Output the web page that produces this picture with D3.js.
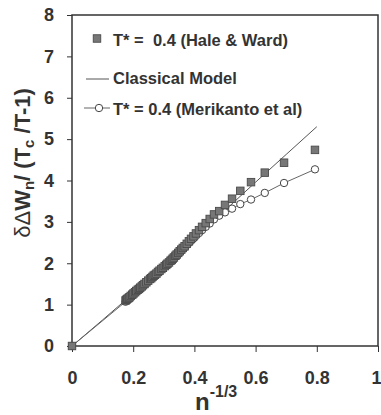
<!DOCTYPE html>
<html>
<head>
<meta charset="utf-8">
<script src="https://cdn.jsdelivr.net/npm/d3@7"></script>
<style>
  html, body { margin: 0; padding: 0; background: #fff; }
  svg { display: block; font-family: "Liberation Sans", Arial, sans-serif; }
</style>
</head>
<body>
<svg id="chart" width="381" height="415"></svg>
<script>
// ---- data ----
const xTicks = [0, 0.2, 0.4, 0.6, 0.8, 1];
const xTickLabels = ["0", "0.2", "0.4", "0.6", "0.8", "1"];
const yTicks = [0, 1, 2, 3, 4, 5, 6, 7, 8];

// n^-1/3 values of the clusters
const clusterX = [0, 0.175, 0.178, 0.181, 0.185, 0.188, 0.192, 0.197, 0.201, 0.206, 0.210,
  0.215, 0.219, 0.223, 0.228, 0.232, 0.237, 0.243, 0.249, 0.255, 0.259,
  0.263, 0.267, 0.271, 0.276, 0.281, 0.286, 0.292, 0.297, 0.303, 0.308,
  0.312, 0.317, 0.322, 0.326, 0.329, 0.333, 0.338, 0.342, 0.347, 0.352,
  0.357, 0.362, 0.368, 0.375, 0.382, 0.389, 0.397, 0.405, 0.415, 0.425,
  0.437, 0.450, 0.464, 0.481, 0.500, 0.523, 0.550, 0.585, 0.630, 0.693, 0.794];

// T* = 0.4 (Hale & Ward) - squares
const haleWardY = [0, 1.10, 1.12, 1.14, 1.16, 1.18, 1.21, 1.24, 1.27, 1.30, 1.33,
  1.36, 1.38, 1.41, 1.44, 1.47, 1.50, 1.54, 1.58, 1.62, 1.64,
  1.67, 1.70, 1.72, 1.75, 1.79, 1.82, 1.86, 1.89, 1.93, 1.96,
  1.99, 2.02, 2.06, 2.08, 2.11, 2.14, 2.18, 2.21, 2.25, 2.29,
  2.33, 2.37, 2.41, 2.47, 2.53, 2.59, 2.65, 2.72, 2.80, 2.88,
  2.97, 3.07, 3.18, 3.26, 3.41, 3.56, 3.75, 3.96, 4.19, 4.43, 4.74];

// T* = 0.4 (Merikanto et al) - circles
const merikantoY = [0, 1.07, 1.10, 1.12, 1.15, 1.17, 1.20, 1.23, 1.26, 1.29, 1.32,
  1.35, 1.37, 1.40, 1.43, 1.46, 1.49, 1.53, 1.57, 1.61, 1.63,
  1.66, 1.69, 1.71, 1.74, 1.78, 1.81, 1.85, 1.88, 1.92, 1.95,
  1.98, 2.01, 2.05, 2.07, 2.10, 2.13, 2.16, 2.19, 2.23, 2.26,
  2.30, 2.34, 2.38, 2.44, 2.49, 2.54, 2.60, 2.66, 2.73, 2.80,
  2.88, 2.96, 3.06, 3.15, 3.23, 3.32, 3.43, 3.54, 3.70, 3.94, 4.27];

// Classical model
const classicalX = [0, 0.1, 0.2, 0.3, 0.4, 0.5, 0.6, 0.7, 0.8];
const classicalY = [0, 0.63, 1.27, 1.93, 2.60, 3.28, 3.96, 4.63, 5.30];

const legendLabels = ["T* =  0.4 (Hale & Ward)", "Classical Model", "T* = 0.4 (Merikanto et al)"];

// ---- drawing ----
const svg = d3.select("#chart");
const ink = "#333";
const x = d3.scaleLinear().domain([0, 1]).range([72, 378]);
const y = d3.scaleLinear().domain([0, 8]).range([346, 15]);

// frame
svg.append("rect")
  .attr("x", x(0)).attr("y", y(8))
  .attr("width", x(1) - x(0)).attr("height", y(0) - y(8))
  .attr("fill", "none").attr("stroke", ink).attr("stroke-width", 1.5);

// axes
const xAxis = d3.axisBottom(x).tickValues(xTicks)
  .tickFormat((d, i) => xTickLabels[i]).tickSize(6);
const gx = svg.append("g").attr("transform", `translate(0,${y(0)})`).call(xAxis);
const yAxis = d3.axisLeft(y).tickValues(yTicks).tickSize(5).tickPadding(13);
const gy = svg.append("g").attr("transform", `translate(${x(0)},0)`).call(yAxis);
[gx, gy].forEach(g => {
  g.select(".domain").remove();
  g.selectAll(".tick line").attr("stroke", ink).attr("stroke-width", 1);
  g.selectAll(".tick text").attr("fill", ink)
    .attr("font-size", 18).attr("font-weight", "bold")
    .attr("font-family", "'Liberation Sans', Arial, sans-serif");
});
gx.selectAll(".tick text").attr("dy", "0").attr("y", 38);
// last label sits at the right edge as in the reference; keep it inside the page
gx.selectAll(".tick text").filter((d, i) => i === xTicks.length - 1)
  .attr("text-anchor", "end").attr("x", 3);

// lines
const line = d3.line().x(d => x(d[0])).y(d => y(d[1]));
svg.append("path")
  .datum(classicalX.map((v, i) => [v, classicalY[i]]))
  .attr("d", line).attr("fill", "none").attr("stroke", "#555").attr("stroke-width", 1);

const merData = clusterX.map((v, i) => [v, merikantoY[i]]);
const hwData = clusterX.map((v, i) => [v, haleWardY[i]]);

svg.append("path").datum(merData)
  .attr("d", line).attr("fill", "none").attr("stroke", "#666").attr("stroke-width", 1);

// circles
svg.append("g").selectAll("circle").data(merData).join("circle")
  .attr("cx", d => x(d[0])).attr("cy", d => y(d[1])).attr("r", 3.7)
  .attr("fill", "#fff").attr("stroke", "#444").attr("stroke-width", 1);

// squares
const sq = 7.5;
svg.append("g").selectAll("rect").data(hwData).join("rect")
  .attr("x", d => x(d[0]) - sq / 2).attr("y", d => y(d[1]) - sq / 2)
  .attr("width", sq).attr("height", sq)
  .attr("fill", "#777").attr("stroke", "#4a4a4a").attr("stroke-width", 0.9);

// legend
const lg = svg.append("g");
lg.append("rect").attr("x", 97 - sq / 2).attr("y", 38.5 - sq / 2)
  .attr("width", sq).attr("height", sq)
  .attr("fill", "#777").attr("stroke", "#4a4a4a").attr("stroke-width", 0.9);
lg.append("line").attr("x1", 86).attr("x2", 109).attr("y1", 79).attr("y2", 79)
  .attr("stroke", "#555").attr("stroke-width", 1);
lg.append("line").attr("x1", 84).attr("x2", 110).attr("y1", 108).attr("y2", 108)
  .attr("stroke", "#666").attr("stroke-width", 1);
lg.append("circle").attr("cx", 99).attr("cy", 108).attr("r", 3.7)
  .attr("fill", "#fff").attr("stroke", "#444").attr("stroke-width", 1);
const legY = [46, 84, 115];
legendLabels.forEach((t, i) => {
  lg.append("text").attr("x", 113).attr("y", legY[i])
    .attr("font-size", 16.5).attr("font-weight", "bold").attr("fill", ink)
    .style("white-space", "pre").text(t);
});

// y axis title
const yt = svg.append("text")
  .attr("transform", "translate(30,163) rotate(-90)")
  .attr("text-anchor", "middle").attr("fill", ink)
  .attr("font-size", 22).attr("font-weight", "bold");
yt.append("tspan").attr("font-weight", "normal").text("δΔ");
yt.append("tspan").text("W");
yt.append("tspan").attr("font-size", 15).attr("dy", 4).text("n");
yt.append("tspan").attr("dy", -4).style("white-space", "pre").text("/ (T");
yt.append("tspan").attr("font-size", 15).attr("dy", 4).text("c");
yt.append("tspan").attr("dy", -4).style("white-space", "pre").text(" /T-1)");

// x axis title
const xt = svg.append("text").attr("x", 195).attr("y", 410).attr("fill", ink)
  .attr("font-weight", "bold");
xt.append("tspan").attr("font-size", 24).text("n");
xt.append("tspan").attr("font-size", 16).attr("dy", -13).text("-1/3");
</script>
</body>
</html>
